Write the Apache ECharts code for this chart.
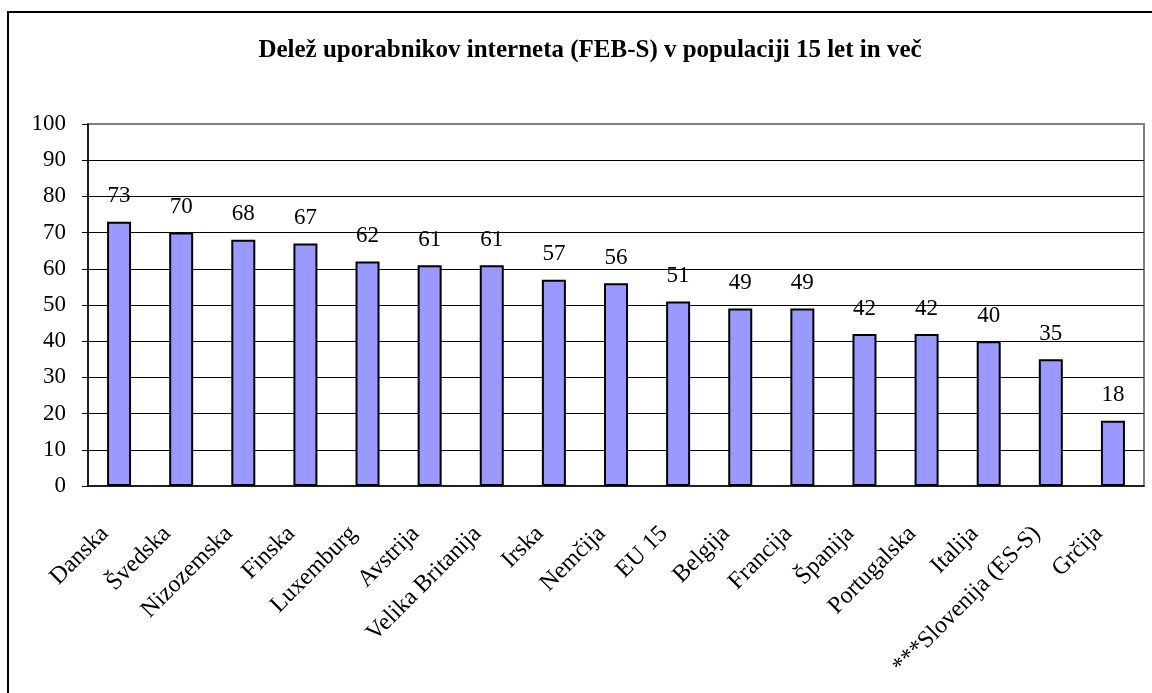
<!DOCTYPE html>
<html>
<head>
<meta charset="utf-8">
<script src="https://cdn.jsdelivr.net/npm/echarts@6/dist/echarts.min.js"></script>
<style>
  html, body { margin: 0; padding: 0; background: #fff; }
  #main { width: 1152px; height: 693px; }
</style>
</head>
<body>
<div id="main"></div>
<script>
// podatki
var countries = ['Danska', 'Švedska', 'Nizozemska', 'Finska', 'Luxemburg', 'Avstrija',
  'Velika Britanija', 'Irska', 'Nemčija', 'EU 15', 'Belgija', 'Francija', 'Španija',
  'Portugalska', 'Italija', '***Slovenija (ES-S)', 'Grčija'];
var shares = [73, 70, 68, 67, 62, 61, 61, 57, 56, 51, 49, 49, 42, 42, 40, 35, 18];
var yMin = 0, yMax = 100, yStep = 10;

var font = 'Liberation Serif';
var chart = echarts.init(document.getElementById('main'));

var option = {
  animation: false,
  title: {
    text: 'Delež uporabnikov interneta (FEB-S) v populaciji 15 let in več',
    left: 585,
    top: 33,
    textAlign: 'center',
    textStyle: { fontFamily: font, fontWeight: 'bold', fontSize: 25, color: '#000' }
  },
  // okvir grafa
  graphic: [{
    type: 'rect',
    silent: true,
    shape: { x: 8, y: 12, width: 1300, height: 900 },
    style: { fill: null, stroke: '#000', lineWidth: 2 }
  }],
  grid: {
    left: 88, right: 8, top: 124, bottom: 207,
    show: true, borderColor: '#808080', borderWidth: 2, backgroundColor: '#fff'
  },
  xAxis: {
    type: 'category',
    data: countries,
    axisLine: { lineStyle: { color: '#000', width: 1.5 } },
    axisTick: { length: 7, lineStyle: { color: '#000' } },
    axisLabel: {
      rotate: 45, margin: 30, padding: [0, 20, 0, 0], interval: 0,
      fontFamily: font, fontSize: 24, color: '#000'
    }
  },
  yAxis: {
    type: 'value',
    min: yMin, max: yMax, interval: yStep,
    axisLine: { show: true, lineStyle: { color: '#000', width: 1.5 } },
    axisTick: { show: true, length: 6, lineStyle: { color: '#000' } },
    axisLabel: { margin: 22, fontFamily: font, fontSize: 23, color: '#000' },
    splitLine: { show: true, showMaxLine: false, showMinLine: false, lineStyle: { color: '#000', width: 1 } }
  },
  series: [{
    type: 'bar',
    data: shares,
    barWidth: 24,
    itemStyle: { color: '#9999FF', borderColor: '#000', borderWidth: 2 },
    label: {
      show: true, position: 'top', distance: 14,
      fontFamily: font, fontSize: 23, color: '#000'
    }
  }]
};

chart.setOption(option);
</script>
</body>
</html>
